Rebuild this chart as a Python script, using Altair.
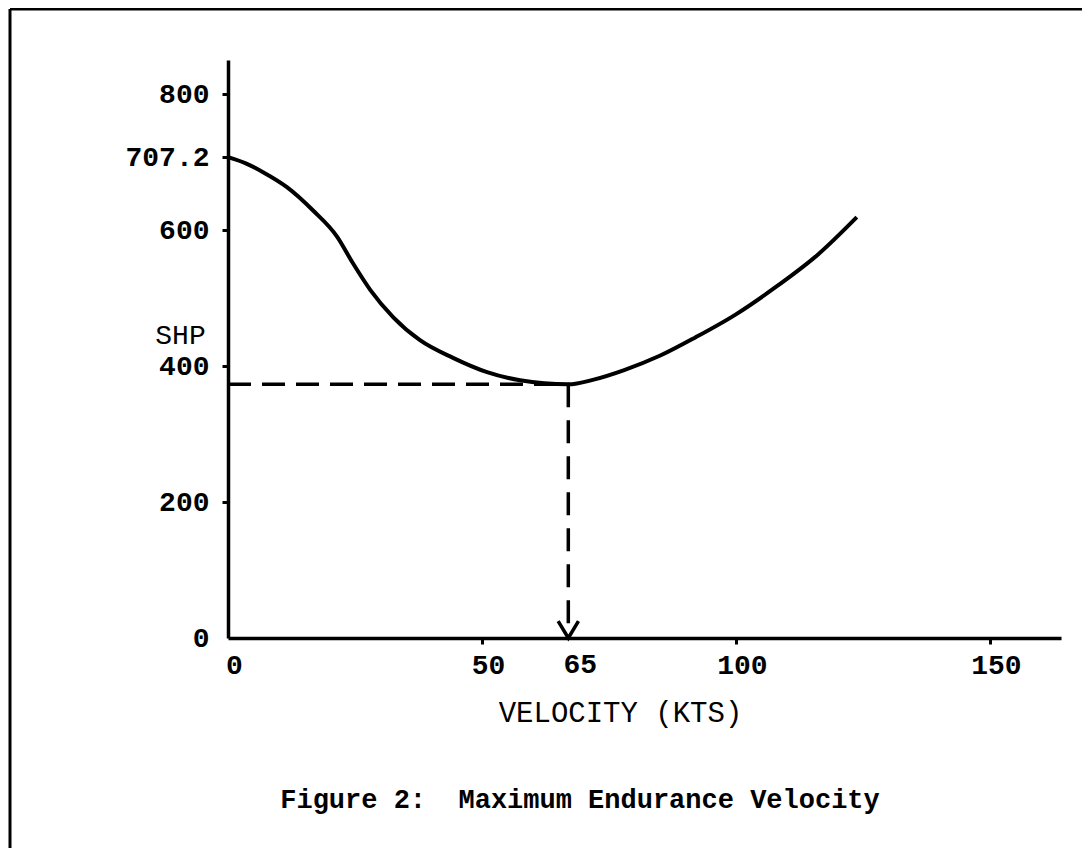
import altair as alt
import pandas as pd

# ---- data ----
vel = [0, 3.5, 6.9, 11.6, 16.7, 21.5, 24.6, 28, 32.5, 37.8, 44.3, 51, 57.5, 67,
       72, 78, 85, 92, 100, 108, 116, 123.8]
shp = [707.2, 698, 685, 663, 629, 590, 551, 512, 472, 438, 412, 391, 379, 373,
       380, 394, 415, 442, 476, 517, 563, 619]
min_vel = 67
min_shp = 373
min_label = "65"
y_ticks = [0, 200, 400, 600, 707.2, 800]
x_ticks = [0, 50, 100, 150]
x_title = "VELOCITY (KTS)"
y_title = "SHP"
caption = "Figure 2: \u00a0Maximum Endurance Velocity"

FONT = "Liberation Mono"
W, H = 833, 578

curve_df = pd.DataFrame({"vel": vel, "shp": shp})
min_df = pd.DataFrame({"vel": [min_vel], "shp": [min_shp], "lab": [min_label],
                       "zero": [0]})
one = pd.DataFrame({"a": [0], "cap": [caption]})

xscale = alt.Scale(domain=[0, 164], nice=False, zero=False)
yscale = alt.Scale(domain=[0, 850], nice=False, zero=False)

hide_zero_tick = {"condition": {"test": "datum.value == 0", "value": 0}, "value": 1}

xaxis = alt.Axis(
    values=x_ticks, grid=False, domainColor="black", domainWidth=3.5,
    tickColor="black", tickWidth=3, tickSize=6, tickOpacity=hide_zero_tick,
    labelFont=FONT, labelFontSize=28, labelFontWeight="bold", labelColor="black",
    labelBaseline="middle", labelPadding=21, labelOffset=6,
    title=x_title, titleFont=FONT, titleFontSize=29, titleFontWeight="normal",
    titleColor="black", titleX=392, titleY=74, titleAlign="center",
    titleBaseline="middle", labelFlush=False,
)
yaxis = alt.Axis(
    values=y_ticks, grid=False, domainColor="black", domainWidth=3.5,
    tickColor="black", tickWidth=3, tickSize=6, tickOpacity=hide_zero_tick,
    labelExpr="datum.value == 707.2 ? '707.2' : format(datum.value, 'd')",
    labelFont=FONT, labelFontSize=28, labelFontWeight="bold", labelColor="black",
    labelPadding=13, labelFlush=False,
    title=y_title, titleFont=FONT, titleFontSize=28, titleFontWeight="normal",
    titleColor="black", titleAngle=0, titleX=-48, titleY=275,
    titleAlign="center", titleBaseline="middle",
)

curve = alt.Chart(curve_df).mark_line(
    interpolate="monotone", color="black", strokeWidth=4
).encode(
    x=alt.X("vel:Q", scale=xscale, axis=xaxis),
    y=alt.Y("shp:Q", scale=yscale, axis=yaxis),
)

hdash = alt.Chart(min_df).mark_rule(
    color="black", strokeWidth=3.5, strokeDash=[23, 11]
).encode(x="zero:Q", x2="vel:Q", y="shp:Q")

vdash = alt.Chart(min_df).mark_rule(
    color="black", strokeWidth=3.5, strokeDash=[23, 13]
).encode(x="vel:Q", y="shp:Q", y2="zero:Q")

arrow = alt.Chart(min_df).mark_point(
    shape="M-0.6,-1L0,0L0.6,-1", filled=False, color="black",
    strokeWidth=3.5, size=1150, opacity=1
).encode(x="vel:Q", y="zero:Q")

min_text = alt.Chart(min_df).mark_text(
    font=FONT, fontSize=28, fontWeight="bold", color="black",
    baseline="middle", align="center", dx=12, dy=27
).encode(x="vel:Q", y="zero:Q", text="lab:N")

cap = alt.Chart(one).mark_text(
    font=FONT, fontSize=27, fontWeight="bold", color="black",
    baseline="middle", align="center"
).encode(x=alt.value(352), y=alt.value(740), text="cap:N")

frame_top = alt.Chart(one).mark_rule(color="black", strokeWidth=3).encode(
    x=alt.value(-218), x2=alt.value(870), y=alt.value(-51))
frame_left = alt.Chart(one).mark_rule(color="black", strokeWidth=3).encode(
    x=alt.value(-218), y=alt.value(-51), y2=alt.value(800))

chart = alt.layer(
    frame_top, frame_left, hdash, vdash, curve, arrow, min_text, cap
).properties(
    width=W, height=H,
    autosize=alt.AutoSizeParams(type="none"),
    padding={"left": 220, "top": 52, "right": 21, "bottom": 210},
    background="white",
).configure_view(stroke=None)

chart.save("out.html", embed_options={"renderer": "svg", "actions": False})
